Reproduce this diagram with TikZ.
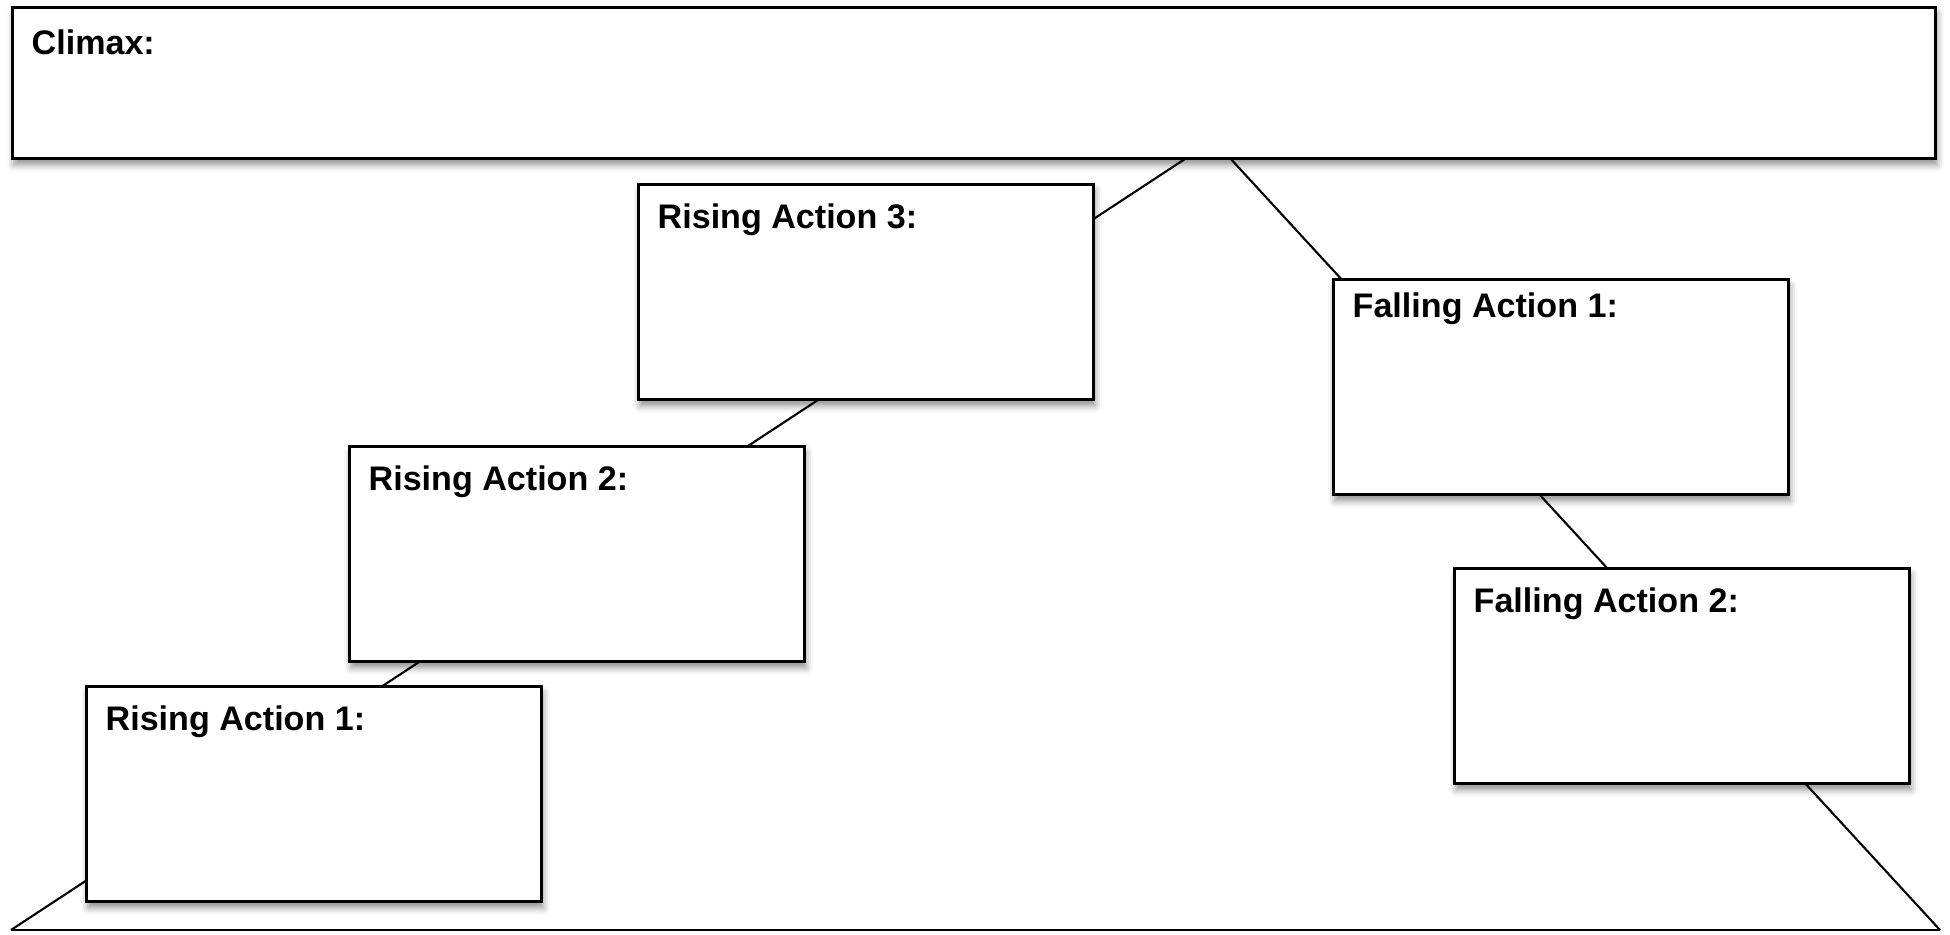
\documentclass[tikz,border=0pt]{standalone}
\usepackage{fontspec}
\setmainfont{Liberation Sans}
\usepackage{tikz}
\usetikzlibrary{shadows.blur}

\begin{document}
\begin{tikzpicture}[every node/.style={font=\bfseries\fontsize{9.7}{11.6}\selectfont}]
    \tikzstyle{stage} = [rectangle, draw=black, fill=white, line width=0.8pt, minimum width=4.55cm, minimum height=2.15cm, anchor=north west, inner sep=0pt, blur shadow={shadow xshift=0.5pt, shadow yshift=-1.8pt, shadow blur radius=2pt, shadow opacity=45}]
    \tikzstyle{caption} = [anchor=north west, inner sep=0pt, xshift=0.2cm, yshift=-0.2cm]
    \tikzstyle{plotline} = [line width=0.6pt]

    \useasboundingbox (0,0) rectangle (19.5,9.35);

    % plot line, behind the boxes
    \coordinate (start) at (0.11,0.05);
    \coordinate (peakl) at (11.88,7.78);
    \coordinate (peakr) at (12.29,7.78);
    \coordinate (finish) at (19.40,0.05);
    \draw[plotline] (start) -- (finish);
    \draw[plotline] (start) -- (peakl);
    \draw[plotline] (peakr) -- (finish);

    \node[stage, minimum width=19.23cm, minimum height=1.51cm, label={[caption, yshift=-0.03cm]north west:{Climax:}}] (climax) at (0.11,9.29) {};
    \node[stage, label={[caption]north west:{Rising Action 1:}}] (rising1) at (0.85,2.50) {};
    \node[stage, label={[caption]north west:{Rising Action 2:}}] (rising2) at (3.48,4.90) {};
    \node[stage, label={[caption]north west:{Rising Action 3:}}] (rising3) at (6.37,7.52) {};
    \node[stage, label={[caption, yshift=0.06cm]north west:{Falling Action 1:}}] (falling1) at (13.32,6.57) {};
    \node[stage, label={[caption]north west:{Falling Action 2:}}] (falling2) at (14.53,3.68) {};
\end{tikzpicture}
\end{document}
